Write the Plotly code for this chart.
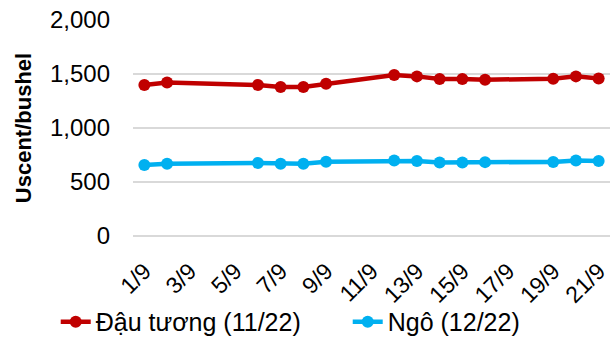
import plotly.graph_objects as go

# Trading days shown on the chart
dates = ["2022-09-01", "2022-09-02", "2022-09-06", "2022-09-07", "2022-09-08",
         "2022-09-09", "2022-09-12", "2022-09-13", "2022-09-14", "2022-09-15",
         "2022-09-16", "2022-09-19", "2022-09-20", "2022-09-21"]

# Futures prices, US cents per bushel
soybean = [1398, 1422, 1398, 1380, 1380, 1410, 1491, 1478, 1454, 1454, 1447, 1456, 1478, 1459]
corn = [657, 669, 676, 669, 669, 688, 700, 694, 681, 681, 684, 686, 700, 694]

soy_name = "Đậu tương (11/22)"
corn_name = "Ngô (12/22)"

y_ticks = [0, 500, 1000, 1500, 2000]
y_ticktext = ["0", "500", "1,000", "1,500", "2,000"]

FONT = "Liberation Sans, Arial, sans-serif"
RED = "#C00000"
BLUE = "#00B0F0"

fig = go.Figure()
fig.add_trace(go.Scatter(
    x=dates, y=soybean, name=soy_name, mode="lines+markers",
    line=dict(color=RED, width=4.5), marker=dict(color=RED, size=12),
))
fig.add_trace(go.Scatter(
    x=dates, y=corn, name=corn_name, mode="lines+markers",
    line=dict(color=BLUE, width=4.5), marker=dict(color=BLUE, size=12),
))

fig.update_layout(
    width=615, height=341,
    margin=dict(l=133, r=5, t=20, b=105, autoexpand=False),
    paper_bgcolor="white", plot_bgcolor="white",
    font=dict(family=FONT, size=24, color="#000000"),
    showlegend=True,
    legend=dict(
        orientation="h", xref="paper", x=-0.162, xanchor="left",
        yref="paper", y=-0.398, yanchor="middle", font=dict(size=25),
        entrywidth=247, entrywidthmode="pixels", tracegroupgap=0,
        bgcolor="rgba(0,0,0,0)",
    ),
)

fig.update_xaxes(
    type="date",
    range=["2022-08-31 12:00", "2022-09-21 12:00"],
    tick0="2022-09-01", dtick=2 * 86400000,
    tickformat="%-d/%-m", tickangle=-45,
    tickfont=dict(size=23),
    showgrid=False, showline=False, zeroline=False,
    ticks="", ticklabelstandoff=16,
)

fig.update_yaxes(
    range=[0, 2000],
    tickvals=y_ticks, ticktext=y_ticktext,
    tickfont=dict(size=24),
    showgrid=True, gridcolor="#D9D9D9", gridwidth=1.5,
    zeroline=True, zerolinecolor="#D9D9D9", zerolinewidth=1.5,
    showline=False, ticks="", ticklabelstandoff=22,
    title=dict(text="<b>Uscent/bushel</b>", font=dict(size=22), standoff=12),
)

fig.write_html("out.html")
